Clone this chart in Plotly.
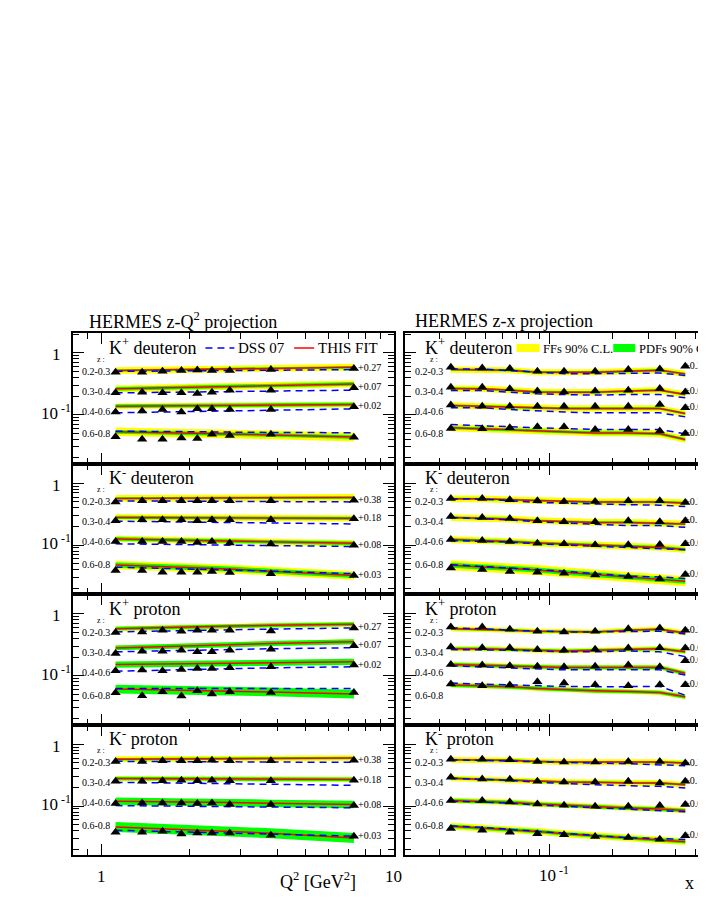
import math
import plotly.graph_objects as go

W, H = 706, 913

# bin centres
q2_bins = [1.12, 1.38, 1.62, 1.88, 2.13, 2.39, 2.75, 3.8, 7.3]
x_bins = [0.034, 0.048, 0.065, 0.088, 0.118, 0.166, 0.239, 0.338, 0.447]

z_bins = ["0.2-0.3", "0.3-0.4", "0.4-0.6", "0.6-0.8"]
offsets_kp_q2 = ["+0.27", "+0.07", "+0.02", ""]
offsets_kp_x = ["+0.29", "+0.09", "+0.04", "+0.02"]
offsets_km = ["+0.38", "+0.18", "+0.08", "+0.03"]

# ---- K+ deuteron, z-Q2
kpd_q2_data = [[0.485, 0.485, 0.504, 0.515, 0.529, 0.515, 0.515, 0.535, 0.555],
               [0.225, 0.231, 0.225, 0.225, 0.220, 0.231, 0.249, 0.249, 0.271],
               [0.110, 0.114, 0.121, 0.110, 0.124, 0.124, 0.121, 0.121, 0.134],
               [0.044, 0.040, 0.040, 0.042, 0.041, 0.048, 0.046, 0.048, 0.043]]
kpd_q2_fit = [[0.515, 0.522, 0.528, 0.533, 0.538, 0.543, 0.549, 0.561, 0.585],
              [0.261, 0.267, 0.272, 0.277, 0.281, 0.285, 0.290, 0.300, 0.314],
              [0.137, 0.138, 0.139, 0.140, 0.141, 0.141, 0.142, 0.143, 0.146],
              [0.0528, 0.052, 0.0512, 0.0505, 0.0499, 0.0494, 0.0487, 0.047, 0.0434]]
kpd_q2_dss = [[0.500, 0.503, 0.506, 0.509, 0.511, 0.513, 0.516, 0.523, 0.535],
              [0.225, 0.228, 0.230, 0.232, 0.234, 0.236, 0.238, 0.243, 0.249],
              [0.107, 0.109, 0.111, 0.113, 0.114, 0.115, 0.117, 0.120, 0.124],
              [0.054, 0.054, 0.0535, 0.053, 0.053, 0.0525, 0.052, 0.0515, 0.051]]
kpd_q2_ff = [0.055, 0.055, 0.045, 0.07]
kpd_q2_pdf = [0.02, 0.03, 0.03, 0.03]

# ---- K- deuteron, z-Q2
kmd_q2_data = [[0.500, 0.520, 0.520, 0.520, 0.520, 0.520, 0.520, 0.520, 0.530],
               [0.249, 0.258, 0.258, 0.258, 0.249, 0.258, 0.258, 0.258, 0.266],
               [0.114, 0.114, 0.114, 0.114, 0.110, 0.114, 0.108, 0.104, 0.100],
               [0.0388, 0.0388, 0.0365, 0.0365, 0.0365, 0.0375, 0.036, 0.0345, 0.0323]]
kmd_q2_fit = [[0.570, 0.572, 0.575, 0.578, 0.580, 0.582, 0.584, 0.588, 0.590],
              [0.281, 0.280, 0.279, 0.278, 0.278, 0.277, 0.276, 0.274, 0.271],
              [0.126, 0.124, 0.122, 0.121, 0.120, 0.119, 0.117, 0.114, 0.107],
              [0.0478, 0.0462, 0.045, 0.044, 0.043, 0.042, 0.041, 0.038, 0.0323]]
kmd_q2_dss = [[0.520, 0.518, 0.516, 0.514, 0.512, 0.511, 0.510, 0.506, 0.500],
              [0.244, 0.241, 0.238, 0.236, 0.234, 0.232, 0.230, 0.226, 0.220],
              [0.105, 0.104, 0.103, 0.102, 0.101, 0.100, 0.099, 0.097, 0.095],
              [0.044, 0.043, 0.0422, 0.0415, 0.041, 0.0405, 0.0398, 0.038, 0.0345]]
kmd_q2_ff = [0.055, 0.05, 0.05, 0.07]
kmd_q2_pdf = [0.02, 0.025, 0.03, 0.04]

# ---- K+ proton, z-Q2
kpp_q2_data = [[0.497, 0.509, 0.542, 0.522, 0.542, 0.542, 0.542, 0.528, 0.591],
               [0.228, 0.249, 0.249, 0.258, 0.243, 0.243, 0.258, 0.268, 0.303],
               [0.120, 0.123, 0.120, 0.126, 0.130, 0.130, 0.134, 0.139, 0.148],
               [0.0528, 0.0473, 0.0548, 0.0468, 0.0569, 0.0503, 0.0548, 0.0535, 0.0535]]
kpp_q2_fit = [[0.575, 0.590, 0.600, 0.610, 0.617, 0.624, 0.632, 0.650, 0.678],
              [0.281, 0.290, 0.297, 0.303, 0.308, 0.313, 0.318, 0.330, 0.352],
              [0.151, 0.153, 0.155, 0.157, 0.158, 0.159, 0.160, 0.163, 0.167],
              [0.0607, 0.0598, 0.059, 0.0583, 0.0577, 0.0571, 0.0564, 0.0545, 0.0503]]
kpp_q2_dss = [[0.510, 0.520, 0.528, 0.535, 0.541, 0.546, 0.552, 0.566, 0.590],
              [0.243, 0.248, 0.252, 0.256, 0.259, 0.262, 0.265, 0.272, 0.283],
              [0.118, 0.121, 0.124, 0.126, 0.128, 0.129, 0.131, 0.134, 0.139],
              [0.062, 0.062, 0.062, 0.062, 0.062, 0.062, 0.062, 0.062, 0.062]]
kpp_q2_ff = [0.04, 0.04, 0.04, 0.055]
kpp_q2_pdf = [0.03, 0.04, 0.05, 0.07]

# ---- K- proton, z-Q2
kmp_q2_data = [[0.528, 0.528, 0.540, 0.540, 0.540, 0.550, 0.540, 0.540, 0.550],
               [0.252, 0.252, 0.258, 0.261, 0.258, 0.261, 0.258, 0.258, 0.261],
               [0.110, 0.112, 0.112, 0.112, 0.110, 0.112, 0.106, 0.106, 0.102],
               [0.0379, 0.0379, 0.0393, 0.0356, 0.0369, 0.0369, 0.0369, 0.0339, 0.0327]]
kmp_q2_fit = [[0.575, 0.578, 0.581, 0.584, 0.586, 0.588, 0.590, 0.594, 0.600],
              [0.280, 0.279, 0.278, 0.277, 0.277, 0.276, 0.275, 0.273, 0.270],
              [0.120, 0.119, 0.118, 0.117, 0.116, 0.115, 0.114, 0.111, 0.106],
              [0.0461, 0.0445, 0.0432, 0.0421, 0.0411, 0.0402, 0.039, 0.0365, 0.0306]]
kmp_q2_dss = [[0.530, 0.528, 0.526, 0.524, 0.522, 0.520, 0.518, 0.515, 0.510],
              [0.243, 0.240, 0.237, 0.235, 0.233, 0.231, 0.229, 0.225, 0.217],
              [0.102, 0.101, 0.100, 0.099, 0.099, 0.098, 0.097, 0.096, 0.094],
              [0.0407, 0.0398, 0.039, 0.0383, 0.0377, 0.0371, 0.0364, 0.035, 0.0327]]
kmp_q2_ff = [0.045, 0.04, 0.045, 0.055]
kmp_q2_pdf = [0.02, 0.03, 0.06, 0.08]

# ---- K+ deuteron, z-x
kpd_x_data = [[0.585, 0.569, 0.555, 0.504, 0.504, 0.504, 0.535, 0.548, 0.607],
              [0.278, 0.278, 0.261, 0.240, 0.233, 0.240, 0.249, 0.264, 0.233],
              [0.143, 0.137, 0.137, 0.137, 0.137, 0.137, 0.137, 0.146, 0.129],
              [0.0598, 0.059, 0.0614, 0.0637, 0.0637, 0.0575, 0.0575, 0.0542, 0.0497]]
kpd_x_fit = [[0.535, 0.535, 0.522, 0.485, 0.485, 0.485, 0.504, 0.522, 0.456],
             [0.264, 0.261, 0.249, 0.233, 0.231, 0.231, 0.240, 0.249, 0.211],
             [0.141, 0.137, 0.134, 0.129, 0.126, 0.126, 0.126, 0.126, 0.104],
             [0.0614, 0.059, 0.0575, 0.056, 0.054, 0.0507, 0.0507, 0.049, 0.0397]]
kpd_x_dss = [[0.548, 0.548, 0.515, 0.485, 0.460, 0.460, 0.470, 0.470, 0.430],
             [0.246, 0.246, 0.231, 0.217, 0.211, 0.207, 0.211, 0.211, 0.187],
             [0.129, 0.129, 0.121, 0.114, 0.110, 0.107, 0.107, 0.107, 0.092],
             [0.069, 0.067, 0.0637, 0.0614, 0.059, 0.0575, 0.0575, 0.0575, 0.049]]
kpd_x_ff = [0.05, 0.05, 0.05, 0.055]
kpd_x_pdf = [0.02, 0.02, 0.02, 0.025]

# ---- K- deuteron, z-x
kmd_x_data = [[0.570, 0.570, 0.542, 0.522, 0.510, 0.510, 0.522, 0.522, 0.490],
              [0.290, 0.279, 0.269, 0.249, 0.239, 0.239, 0.249, 0.239, 0.249],
              [0.123, 0.119, 0.114, 0.107, 0.105, 0.101, 0.101, 0.102, 0.105],
              [0.0428, 0.0403, 0.0374, 0.0365, 0.0352, 0.033, 0.0311, 0.0284, 0.0335]]
kmd_x_fit = [[0.560, 0.560, 0.540, 0.522, 0.510, 0.500, 0.500, 0.500, 0.480],
             [0.279, 0.272, 0.264, 0.249, 0.239, 0.233, 0.233, 0.228, 0.220],
             [0.123, 0.119, 0.114, 0.108, 0.105, 0.101, 0.096, 0.092, 0.085],
             [0.0474, 0.0446, 0.0428, 0.0397, 0.0365, 0.0335, 0.0303, 0.0274, 0.0261]]
kmd_x_dss = [[0.555, 0.555, 0.522, 0.490, 0.478, 0.460, 0.450, 0.443, 0.422],
             [0.279, 0.269, 0.256, 0.239, 0.228, 0.220, 0.207, 0.207, 0.194],
             [0.119, 0.116, 0.112, 0.105, 0.101, 0.096, 0.092, 0.0885, 0.084],
             [0.0484, 0.0456, 0.0428, 0.0403, 0.038, 0.0345, 0.0316, 0.0306, 0.029]]
kmd_x_ff = [0.055, 0.055, 0.055, 0.08]
kmd_x_pdf = [0.02, 0.02, 0.025, 0.04]

# ---- K+ proton, z-x
kpp_x_data = [[0.613, 0.613, 0.563, 0.522, 0.510, 0.522, 0.575, 0.590, 0.542],
              [0.290, 0.283, 0.283, 0.264, 0.258, 0.268, 0.279, 0.283, 0.279],
              [0.151, 0.148, 0.144, 0.142, 0.139, 0.142, 0.148, 0.139, 0.174],
              [0.073, 0.0686, 0.0704, 0.0795, 0.0757, 0.071, 0.0686, 0.071, 0.071]]
kpp_x_fit = [[0.575, 0.563, 0.542, 0.522, 0.510, 0.510, 0.542, 0.563, 0.490],
             [0.272, 0.272, 0.264, 0.258, 0.250, 0.258, 0.264, 0.272, 0.243],
             [0.151, 0.148, 0.142, 0.139, 0.136, 0.136, 0.136, 0.136, 0.109],
             [0.0704, 0.0686, 0.066, 0.0621, 0.059, 0.0569, 0.0554, 0.0534, 0.0455]]
kpp_x_dss = [[0.590, 0.575, 0.542, 0.522, 0.510, 0.510, 0.522, 0.522, 0.470],
             [0.264, 0.264, 0.258, 0.250, 0.243, 0.243, 0.250, 0.243, 0.203],
             [0.144, 0.139, 0.134, 0.128, 0.124, 0.124, 0.124, 0.124, 0.102],
             [0.0757, 0.073, 0.0704, 0.0686, 0.0668, 0.066, 0.066, 0.0668, 0.0484]]
kpp_x_ff = [0.04, 0.04, 0.04, 0.04]
kpp_x_pdf = [0.02, 0.025, 0.03, 0.03]

# ---- K- proton, z-x
kmp_x_data = [[0.575, 0.575, 0.563, 0.528, 0.515, 0.515, 0.528, 0.528, 0.497],
              [0.293, 0.275, 0.272, 0.252, 0.246, 0.246, 0.252, 0.236, 0.252],
              [0.123, 0.123, 0.117, 0.108, 0.103, 0.0995, 0.0995, 0.102, 0.106],
              [0.0434, 0.0407, 0.0377, 0.0358, 0.0345, 0.0323, 0.031, 0.0291, 0.0332]]
kmp_x_fit = [[0.560, 0.560, 0.550, 0.528, 0.515, 0.515, 0.515, 0.515, 0.497],
             [0.283, 0.272, 0.266, 0.252, 0.246, 0.243, 0.236, 0.236, 0.222],
             [0.123, 0.120, 0.115, 0.108, 0.103, 0.0995, 0.093, 0.0897, 0.085],
             [0.0473, 0.0443, 0.0417, 0.039, 0.0358, 0.033, 0.0302, 0.0284, 0.0266]]
kmp_x_dss = [[0.563, 0.548, 0.528, 0.510, 0.497, 0.497, 0.485, 0.467, 0.450],
             [0.283, 0.272, 0.260, 0.243, 0.231, 0.222, 0.214, 0.209, 0.196],
             [0.120, 0.117, 0.112, 0.104, 0.0995, 0.0965, 0.0905, 0.085, 0.081],
             [0.048, 0.0455, 0.0422, 0.039, 0.036, 0.0335, 0.031, 0.0298, 0.029]]
kmp_x_ff = [0.045, 0.045, 0.045, 0.055]
kmp_x_pdf = [0.02, 0.02, 0.03, 0.03]

# (title, x bins, data, fit, dss, ff band, pdf band, offsets, column, row)
panels = [
    ("K<sup>+</sup> deuteron", q2_bins, kpd_q2_data, kpd_q2_fit, kpd_q2_dss, kpd_q2_ff, kpd_q2_pdf, offsets_kp_q2, 0, 0),
    ("K<sup>-</sup> deuteron", q2_bins, kmd_q2_data, kmd_q2_fit, kmd_q2_dss, kmd_q2_ff, kmd_q2_pdf, offsets_km, 0, 1),
    ("K<sup>+</sup> proton", q2_bins, kpp_q2_data, kpp_q2_fit, kpp_q2_dss, kpp_q2_ff, kpp_q2_pdf, offsets_kp_q2, 0, 2),
    ("K<sup>-</sup> proton", q2_bins, kmp_q2_data, kmp_q2_fit, kmp_q2_dss, kmp_q2_ff, kmp_q2_pdf, offsets_km, 0, 3),
    ("K<sup>+</sup> deuteron", x_bins, kpd_x_data, kpd_x_fit, kpd_x_dss, kpd_x_ff, kpd_x_pdf, offsets_kp_x, 1, 0),
    ("K<sup>-</sup> deuteron", x_bins, kmd_x_data, kmd_x_fit, kmd_x_dss, kmd_x_ff, kmd_x_pdf, offsets_km, 1, 1),
    ("K<sup>+</sup> proton", x_bins, kpp_x_data, kpp_x_fit, kpp_x_dss, kpp_x_ff, kpp_x_pdf, offsets_kp_x, 1, 2),
    ("K<sup>-</sup> proton", x_bins, kmp_x_data, kmp_x_fit, kmp_x_dss, kmp_x_ff, kmp_x_pdf, offsets_km, 1, 3),
]

SERIF = "Liberation Serif"
TOPS = [325, 455.5, 586, 716.5]
PH = 130.5
COL_X = [(65, 387), (398, 706)]
X_RANGES = [[math.log10(0.8), 1.0], [-1.688, -0.222]]
Y_RANGE = [-1.79, 0.32]


def fx(p):
    return p / W


def fy(p):
    return 1 - p / H


def txt(x, y, text, size, xanchor="left", xref="paper", yref="paper", **kw):
    return dict(x=x, y=y, xref=xref, yref=yref, text=text, showarrow=False,
                xanchor=xanchor, yanchor="middle", borderpad=0,
                font=dict(family=SERIF, size=size, color="black"), **kw)


fig = go.Figure()
annotations = []
shapes = []

for i, (title, xv, data, fit, dss, ff, pdf, offs, col, row) in enumerate(panels):
    n = i + 1
    xa, ya = f"x{n}", f"y{n}"
    for r in range(4):
        # FF band (yellow) then PDF band (green)
        for w, colr in ((ff[r], "#ffff00"), (pdf[r], "#00ff00")):
            fig.add_trace(go.Scatter(x=xv, y=[v * 10 ** (-w) for v in fit[r]], mode="lines",
                                     line=dict(width=0), showlegend=False, hoverinfo="skip",
                                     xaxis=xa, yaxis=ya))
            fig.add_trace(go.Scatter(x=xv, y=[v * 10 ** w for v in fit[r]], mode="lines",
                                     line=dict(width=0), fill="tonexty", fillcolor=colr,
                                     showlegend=False, hoverinfo="skip", xaxis=xa, yaxis=ya))
        fig.add_trace(go.Scatter(x=xv, y=fit[r], mode="lines", line=dict(color="red", width=1.5),
                                 showlegend=False, xaxis=xa, yaxis=ya))
        fig.add_trace(go.Scatter(x=xv, y=dss[r], mode="lines",
                                 line=dict(color="blue", width=1.5, dash="7px,5px"),
                                 showlegend=False, xaxis=xa, yaxis=ya))
        fig.add_trace(go.Scatter(x=xv, y=data[r], mode="markers",
                                 marker=dict(symbol="triangle-up", size=9, color="black"),
                                 showlegend=False, xaxis=xa, yaxis=ya))
        if offs[r]:
            annotations.append(txt(math.log10(xv[-1]), math.log10(data[r][-1]), offs[r], 10,
                                   xref=xa, yref=ya, xshift=3 if col == 0 else -2, yshift=1))

    top = TOPS[row]
    x0, x1 = COL_X[col]
    if col == 0:
        xminor = [0.9, 2, 3, 4, 5, 6, 7, 8, 9]
        xmajor = [1, 10]
    else:
        xminor = [0.03, 0.04, 0.05, 0.06, 0.07, 0.08, 0.09, 0.2, 0.3, 0.4, 0.5]
        xmajor = [0.1]
    axis_common = dict(showline=True, linecolor="black", linewidth=2, mirror="ticks",
                       ticks="inside", ticklen=11, tickwidth=1.2, tickcolor="black",
                       showgrid=False, zeroline=False, showticklabels=False, type="log")
    fig.layout[f"xaxis{n}"] = dict(axis_common, domain=[fx(x0), fx(x1)], range=X_RANGES[col],
                                   anchor=ya, tickvals=xmajor,
                                   minor=dict(tickvals=xminor, ticks="inside", ticklen=6,
                                              tickwidth=1.2, tickcolor="black", showgrid=False))
    fig.layout[f"yaxis{n}"] = dict(axis_common, domain=[fy(top + PH), fy(top)], range=Y_RANGE,
                                   anchor=xa, tickvals=[0.1, 1],
                                   minor=dict(tickvals=[0.02, 0.03, 0.04, 0.05, 0.06, 0.07, 0.08, 0.09,
                                                        0.2, 0.3, 0.4, 0.5, 0.6, 0.7, 0.8, 0.9, 2],
                                              ticks="inside", ticklen=6, tickwidth=1.2,
                                              tickcolor="black", showgrid=False))

    # panel title
    annotations.append(txt(fx(x0 + (35 if col == 0 else 19)), fy(top + 13), title, 18))
    # z bin labels
    lab_right = 103 if col == 0 else 437
    annotations.append(txt(fx(lab_right - 10), fy(top + 26), "z :", 8, xanchor="center"))
    for k, dy in enumerate([38, 58, 78, 101]):
        annotations.append(txt(fx(lab_right), fy(top + dy), z_bins[k], 10, xanchor="right"))
    # y tick labels on left column
    if col == 0:
        annotations.append(txt(fx(54), 0, "1", 17, xanchor="right", yref=ya, yshift=-2))
        annotations.append(txt(fx(64), -1, "10<sup> -1</sup>", 17, xanchor="right", yref=ya, yshift=3))

# column titles
annotations.append(txt(fx(80), fy(313), "HERMES z-Q<sup>2</sup> projection", 18))
annotations.append(txt(fx(407), fy(313), "HERMES z-x projection", 18))

# x tick labels and axis titles
bottom = TOPS[3] + PH
annotations.append(txt(0, fy(bottom + 21), "1", 17, xanchor="center", xref="x4"))
annotations.append(txt(1, fy(bottom + 21), "10", 17, xanchor="center", xref="x4"))
annotations.append(txt(-1, fy(bottom + 19), "10<sup> -1</sup>", 17, xanchor="center", xref="x8", xshift=5))
annotations.append(txt(fx(272), fy(bottom + 25), "Q<sup>2</sup> [GeV<sup>2</sup>]", 18))
annotations.append(txt(fx(683), fy(bottom + 28), "x", 18, xanchor="center"))

# legends
top0 = TOPS[0]
shapes.append(dict(type="line", xref="paper", yref="paper", x0=fx(198), x1=fx(227),
                   y0=fy(top0 + 15), y1=fy(top0 + 15), line=dict(color="blue", width=1.5, dash="7px,5px")))
annotations.append(txt(fx(230), fy(top0 + 15), "DSS 07", 15))
shapes.append(dict(type="line", xref="paper", yref="paper", x0=fx(287), x1=fx(307),
                   y0=fy(top0 + 15), y1=fy(top0 + 15), line=dict(color="red", width=1.5)))
annotations.append(txt(fx(310), fy(top0 + 15), "THIS FIT", 15))
shapes.append(dict(type="rect", xref="paper", yref="paper", x0=fx(510), x1=fx(533),
                   y0=fy(top0 + 19), y1=fy(top0 + 11), line=dict(width=0), fillcolor="#ffff00"))
annotations.append(txt(fx(536), fy(top0 + 16), "FFs 90% C.L.", 12.5))
shapes.append(dict(type="rect", xref="paper", yref="paper", x0=fx(607), x1=fx(629),
                   y0=fy(top0 + 19), y1=fy(top0 + 11), line=dict(width=0), fillcolor="#00ff00"))
annotations.append(txt(fx(632), fy(top0 + 16), "PDFs 90% C.L.", 12.5))

fig.update_layout(width=W, height=H, margin=dict(l=0, r=0, t=0, b=0),
                  paper_bgcolor="white", plot_bgcolor="white",
                  annotations=annotations, shapes=shapes, showlegend=False)

fig.write_html("out.html")
